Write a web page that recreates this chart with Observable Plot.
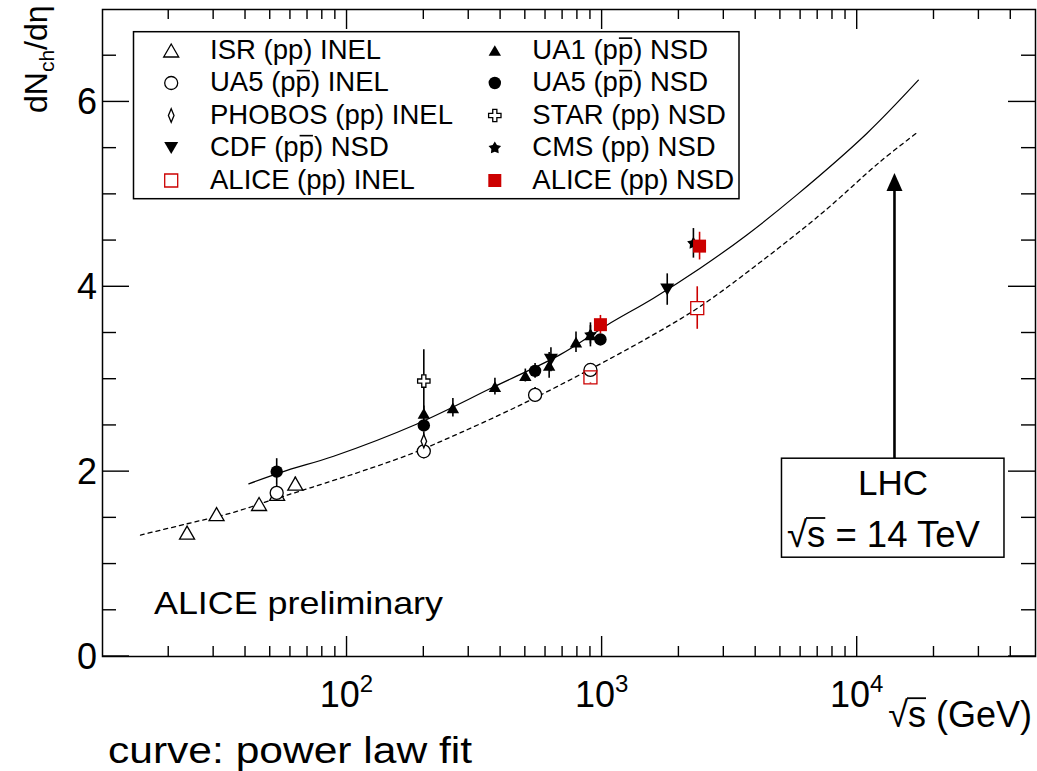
<!DOCTYPE html>
<html>
<head>
<meta charset="utf-8">
<script src="https://cdn.jsdelivr.net/npm/d3@7"></script>
<script src="https://cdn.jsdelivr.net/npm/@observablehq/plot@0.6"></script>
<style>
  body { margin: 0; background: #fff; }
  #chart { width: 1037px; height: 771px; }
  #chart svg text { font-family: "Liberation Sans", Arial, Helvetica, sans-serif; }
</style>
</head>
<body>
<div id="chart"></div>
<script>
// ---- Axis ranges and tick positions ----
const xDomain = [11, 50000];
const yDomain = [0, 7];
const xMajorTicks = [100, 1000, 10000];
const xTickExponents = ["2", "3", "4"];
const xMinorTicks = [20, 30, 40, 50, 60, 70, 80, 90,
  200, 300, 400, 500, 600, 700, 800, 900,
  2000, 3000, 4000, 5000, 6000, 7000, 8000, 9000,
  20000, 30000, 40000];
const yMajorTicks = [0, 2, 4, 6];
const yMinorTicks = [0.5, 1, 1.5, 2.5, 3, 3.5, 4.5, 5, 5.5, 6.5];

// ---- Measurements: sqrt(s) in GeV, dNch/deta, uncertainty ----
const isrEnergy = [23.6, 30.8, 45.2, 53.2, 62.7];
const isrValue = [1.34, 1.54, 1.65, 1.76, 1.87];
const isrError = [0.03, 0.03, 0.03, 0.03, 0.07];

const ua5InelEnergy = [53, 200, 546, 900];
const ua5InelValue = [1.77, 2.22, 2.83, 3.10];
const ua5InelError = [0.09, 0.08, 0.08, 0.06];

const phobosEnergy = [200];
const phobosValue = [2.33];
const phobosError = [0.1];

const cdfEnergy = [630, 1800];
const cdfValue = [3.21, 3.97];
const cdfError = [0.13, 0.17];

const aliceInelEnergy = [900, 2360];
const aliceInelValue = [3.02, 3.77];
const aliceInelError = [0.06, 0.23];

const ua1Energy = [200, 260, 380, 500, 620, 790, 900];
const ua1Value = [2.63, 2.69, 2.92, 3.04, 3.15, 3.40, 3.48];
const ua1Error = [0.08, 0.1, 0.09, 0.07, 0.14, 0.11, 0.1];

const ua5NsdEnergy = [53, 200, 546, 985];
const ua5NsdValue = [2.00, 2.50, 3.09, 3.43];
const ua5NsdError = [0.14, 0.06, 0.08, 0.05];

const starEnergy = [200];
const starValue = [2.98];
const starError = [0.34];

const cmsEnergy = [900, 2280];
const cmsValue = [3.48, 4.47];
const cmsError = [0.13, 0.16];

const aliceNsdEnergy = [985, 2410];
const aliceNsdValue = [3.59, 4.44];
const aliceNsdError = [0.1, 0.15];

// ---- Power-law fit curves ----
const nsdFitEnergy = [41.2, 58.2, 88.6, 188, 375, 685, 1044, 1590, 2423, 3693, 5799, 10904, 17370];
const nsdFitValue = [1.868, 2.013, 2.167, 2.516, 2.915, 3.266, 3.585, 3.877, 4.201, 4.561, 4.994, 5.659, 6.235];
const inelFitEnergy = [15.5, 23.6, 34.9, 51.6, 71.8, 123.4, 182.4, 239, 477.5, 983, 1590, 2423, 4165, 7374, 12295, 17215];
const inelFitValue = [1.314, 1.436, 1.55, 1.70, 1.825, 2.035, 2.203, 2.34, 2.72, 3.165, 3.482, 3.787, 4.265, 4.81, 5.353, 5.67];

// ---- LHC annotation ----
const lhcEnergy = 14000;
const lhcArrowBase = 2.14;
const lhcArrowTip = 5.23;

// ---- Marker shapes (r = half width in px) ----
const half = (size) => Math.sqrt(size / Math.PI);
const triangleUp = {draw(c, size) { const r = half(size), h = r * Math.sqrt(3);
  c.moveTo(0, -h / 2); c.lineTo(r, h / 2); c.lineTo(-r, h / 2); c.closePath(); }};
const triangleDown = {draw(c, size) { const r = half(size), h = r * Math.sqrt(3);
  c.moveTo(0, h / 2); c.lineTo(r, -h / 2); c.lineTo(-r, -h / 2); c.closePath(); }};
const arrowHead = {draw(c, size) { const r = half(size), h = r * 2.25;
  c.moveTo(0, 0); c.lineTo(r, h); c.lineTo(-r, h); c.closePath(); }};
const thinDiamond = {draw(c, size) { const r = half(size), h = r * 2.4;
  c.moveTo(0, -h); c.lineTo(r, 0); c.lineTo(0, h); c.lineTo(-r, 0); c.closePath(); }};
const squareMark = {draw(c, size) { const r = half(size); c.rect(-r, -r, 2 * r, 2 * r); }};
const plusMark = {draw(c, size) { const r = half(size), t = r / 3;
  c.moveTo(-t, -r); c.lineTo(t, -r); c.lineTo(t, -t); c.lineTo(r, -t); c.lineTo(r, t); c.lineTo(t, t);
  c.lineTo(t, r); c.lineTo(-t, r); c.lineTo(-t, t); c.lineTo(-r, t); c.lineTo(-r, -t); c.lineTo(-t, -t); c.closePath(); }};
const starMark = {draw(c, size) { const r = half(size), ri = r * 0.55;
  for (let i = 0; i < 10; i++) { const a = -Math.PI / 2 + i * Math.PI / 5, rr = i % 2 ? ri : r;
    const px = rr * Math.cos(a), py = rr * Math.sin(a); if (i) c.lineTo(px, py); else c.moveTo(px, py); }
  c.closePath(); }};

const RED = "#cc0000";
const rows = (energy, value, error) => energy.map((e, i) => ({energy: e, value: value[i], error: error[i]}));

// Drawing order follows the legend; col/row give the legend slot.
const series = [
  {label: "ISR (pp) INEL", data: rows(isrEnergy, isrValue, isrError), symbol: triangleUp, r: 7.5, fill: "white", stroke: "black", col: 0, row: 0},
  {label: "UA5 (pp\u0304) INEL", data: rows(ua5InelEnergy, ua5InelValue, ua5InelError), symbol: "circle", r: 6.5, fill: "white", stroke: "black", col: 0, row: 1},
  {label: "PHOBOS (pp) INEL", data: rows(phobosEnergy, phobosValue, phobosError), symbol: thinDiamond, r: 2.8, fill: "white", stroke: "black", col: 0, row: 2},
  {label: "CDF (pp\u0304) NSD", data: rows(cdfEnergy, cdfValue, cdfError), symbol: triangleDown, r: 7, fill: "black", stroke: "none", col: 0, row: 3},
  {label: "ALICE (pp) INEL", data: rows(aliceInelEnergy, aliceInelValue, aliceInelError), symbol: squareMark, r: 6.5, fill: "none", stroke: RED, col: 0, row: 4, split: true},
  {label: "UA1 (pp\u0304) NSD", data: rows(ua1Energy, ua1Value, ua1Error), symbol: triangleUp, r: 6.2, fill: "black", stroke: "none", col: 1, row: 0},
  {label: "UA5 (pp\u0304) NSD", data: rows(ua5NsdEnergy, ua5NsdValue, ua5NsdError), symbol: "circle", r: 6.2, fill: "black", stroke: "none", col: 1, row: 1},
  {label: "STAR (pp) NSD", data: rows(starEnergy, starValue, starError), symbol: plusMark, r: 6.2, fill: "white", stroke: "black", col: 1, row: 2},
  {label: "CMS (pp) NSD", data: rows(cmsEnergy, cmsValue, cmsError), symbol: starMark, r: 6.6, fill: "black", stroke: "none", col: 1, row: 3},
  {label: "ALICE (pp) NSD", data: rows(aliceNsdEnergy, aliceNsdValue, aliceNsdError), symbol: squareMark, r: 6.5, fill: RED, stroke: "none", col: 1, row: 4}
];

const errColor = (s) => (s.stroke === RED || s.fill === RED) ? RED : "black";

function errorBars(s) {
  const c = errColor(s);
  if (s.split) {
    return [
      Plot.ruleX(s.data, {x: "energy", y1: (d) => d.value + d.error, y2: "value", insetBottom: s.r, stroke: c, strokeWidth: 1.6}),
      Plot.ruleX(s.data, {x: "energy", y1: "value", y2: (d) => d.value - d.error, insetTop: s.r, stroke: c, strokeWidth: 1.6})
    ];
  }
  return Plot.ruleX(s.data, {x: "energy", y1: (d) => d.value - d.error, y2: (d) => d.value + d.error, stroke: c, strokeWidth: 1.6});
}

function markers(s) {
  return Plot.dot(s.data, {x: "energy", y: "value", symbol: s.symbol, r: s.r, fill: s.fill, stroke: s.stroke, strokeWidth: 1.3});
}

// Inward ticks on all four sides of the frame
function frameTicks(index, {x, y}, values, dim) {
  const L = dim.marginLeft, R = dim.width - dim.marginRight, T = dim.marginTop, B = dim.height - dim.marginBottom;
  const g = d3.create("svg:g").attr("stroke", "black").attr("stroke-width", 1.4).attr("fill", "none");
  const vx = (v, len) => { const p = x(v);
    g.append("line").attr("x1", p).attr("x2", p).attr("y1", B).attr("y2", B - len);
    g.append("line").attr("x1", p).attr("x2", p).attr("y1", T).attr("y2", T + len); };
  const hy = (v, len) => { const p = y(v);
    g.append("line").attr("y1", p).attr("y2", p).attr("x1", L).attr("x2", L + len);
    g.append("line").attr("y1", p).attr("y2", p).attr("x1", R).attr("x2", R - len); };
  xMajorTicks.forEach((v) => vx(v, 20));
  xMinorTicks.forEach((v) => vx(v, 10));
  yMajorTicks.forEach((v) => hy(v, 27));
  yMinorTicks.forEach((v) => hy(v, 14));
  return g.node();
}

// "√s" written as a radical sign followed by an over-barred s
function appendSqrtS(text) {
  text.append("tspan").text("\u221a");
  text.append("tspan").attr("class", "overbar radical").text("s");
}

// Tick labels, axis titles and annotations
function labels(index, {x, y}, values, dim) {
  const L = dim.marginLeft, B = dim.height - dim.marginBottom, T = dim.marginTop, R = dim.width - dim.marginRight;
  const g = d3.create("svg:g").attr("fill", "black").attr("text-anchor", "start");
  xMajorTicks.forEach((v, i) => {
    const t = g.append("text").attr("x", x(v)).attr("y", B + 51).attr("text-anchor", "middle").attr("font-size", 36);
    t.append("tspan").text("10");
    t.append("tspan").attr("dy", -15).attr("font-size", 24).text(xTickExponents[i]);
  });
  yMajorTicks.forEach((v) => {
    g.append("text").attr("x", L - 5).attr("y", y(v)).attr("dy", "0.36em").attr("text-anchor", "end").attr("font-size", 36).text(v);
  });
  // y-axis title
  const yt = g.append("text").attr("transform", `translate(${L - 55},${T + 104}) rotate(-90)`).attr("text-anchor", "start").attr("font-size", 32);
  yt.append("tspan").text("dN");
  yt.append("tspan").attr("font-size", 21).attr("dy", 7).text("ch");
  yt.append("tspan").attr("dy", -7).text("/d\u03b7");
  // x-axis title
  const xt = g.append("text").attr("x", R - 3).attr("y", B + 71).attr("text-anchor", "end").attr("font-size", 36);
  appendSqrtS(xt);
  xt.append("tspan").text(" (GeV)");
  g.append("text").attr("x", L + 52).attr("y", B - 42).attr("text-anchor", "start").attr("font-size", 32)
    .attr("textLength", 289).attr("lengthAdjust", "spacingAndGlyphs").text("ALICE preliminary");
  g.append("text").attr("x", 108).attr("y", dim.height - 8).attr("text-anchor", "start").attr("font-size", 36)
    .attr("textLength", 364).attr("lengthAdjust", "spacingAndGlyphs").text("curve: power law fit");
  return g.node();
}

// Box with the LHC energy under the arrow
function lhcBox(index, {x, y}) {
  const cx = x(lhcEnergy), top = y(lhcArrowBase);
  const g = d3.create("svg:g");
  g.append("rect").attr("x", cx - 112.5).attr("y", top).attr("width", 222.5).attr("height", 99)
    .attr("fill", "white").attr("stroke", "black").attr("stroke-width", 1.5);
  g.append("text").attr("x", cx - 1).attr("y", top + 37).attr("text-anchor", "middle").attr("font-size", 35).text("LHC");
  const t = g.append("text").attr("x", cx - 107).attr("y", top + 89).attr("text-anchor", "start").attr("font-size", 36.5);
  appendSqrtS(t);
  t.append("tspan").text(" = 14 TeV");
  return g.node();
}

// Legend frame and entry texts
const legendBox = {dx: 31.5, dy: 22.7, width: 605.5, height: 167};
const legendSymbolX = [68.7, 392.3];
const legendTextX = [108, 430.3];
const legendRowY = [41, 73.5, 106, 138.5, 171];

function legendFrame(index, scales, values, dim) {
  const L = dim.marginLeft, T = dim.marginTop;
  const g = d3.create("svg:g");
  g.append("rect").attr("x", L + legendBox.dx).attr("y", T + legendBox.dy)
    .attr("width", legendBox.width).attr("height", legendBox.height)
    .attr("fill", "white").attr("stroke", "black").attr("stroke-width", 1.5);
  for (const s of series) {
    const t = g.append("text").attr("x", L + legendTextX[s.col]).attr("y", T + legendRowY[s.row] + 8.5)
      .attr("text-anchor", "start").attr("font-size", 27.5);
    const parts = s.label.split("p\u0304");
    parts.forEach((p, i) => {
      if (i) t.append("tspan").attr("class", "overbar").text("p");
      t.append("tspan").text(p);
    });
  }
  return g.node();
}

const legendMarkers = series.map((s) => Plot.dot([s], {
  frameAnchor: "top-left", dx: legendSymbolX[s.col], dy: legendRowY[s.row],
  symbol: s.symbol, r: s.r, fill: s.fill, stroke: s.stroke, strokeWidth: 1.3
}));

const nsdFit = nsdFitEnergy.map((e, i) => ({energy: e, value: nsdFitValue[i]}));
const inelFit = inelFitEnergy.map((e, i) => ({energy: e, value: inelFitValue[i]}));

const chart = Plot.plot({
  width: 1037,
  height: 771,
  marginLeft: 102,
  marginRight: 2,
  marginTop: 9,
  marginBottom: 115,
  x: {type: "log", domain: xDomain, axis: null},
  y: {domain: yDomain, axis: null},
  style: {background: "white", fontFamily: "Liberation Sans, Arial, sans-serif"},
  marks: [
    Plot.line(inelFit, {x: "energy", y: "value", stroke: "black", strokeWidth: 1.3, strokeDasharray: "4,4", curve: "catmull-rom"}),
    Plot.line(nsdFit, {x: "energy", y: "value", stroke: "black", strokeWidth: 1.2, curve: "catmull-rom"}),
    ...series.flatMap((s) => [errorBars(s)].flat()),
    ...series.map(markers),
    Plot.ruleX([lhcEnergy], {x: (d) => d, y1: lhcArrowBase, y2: lhcArrowTip - 0.15, stroke: "black", strokeWidth: 2.6}),
    Plot.dot([lhcEnergy], {x: (d) => d, y: lhcArrowTip, symbol: arrowHead, r: 8, fill: "black"}),
    lhcBox,
    legendFrame,
    ...legendMarkers,
    Plot.frame({stroke: "black", strokeWidth: 1.5}),
    frameTicks,
    labels
  ]
});

document.getElementById("chart").append(chart);

// Bars over antiproton "p" and over the "s" under the radical, placed from the laid-out glyphs
chart.querySelectorAll("tspan.overbar").forEach((ts) => {
  const n = ts.getNumberOfChars();
  const start = ts.getStartPositionOfChar(0);
  const end = ts.getEndPositionOfChar(n - 1);
  const fs = parseFloat(getComputedStyle(ts).fontSize);
  const isRadical = ts.classList.contains("radical");
  const yBar = start.y - fs * (isRadical ? 0.80 : 0.74);
  const line = document.createElementNS("http://www.w3.org/2000/svg", "line");
  line.setAttribute("x1", start.x - (isRadical ? 1 : -1));
  line.setAttribute("x2", end.x - (isRadical ? 0 : 1));
  line.setAttribute("y1", yBar);
  line.setAttribute("y2", yBar);
  line.setAttribute("stroke", "black");
  line.setAttribute("stroke-width", isRadical ? 1.8 : 1.6);
  ts.parentNode.parentNode.appendChild(line);
});
</script>
</body>
</html>
